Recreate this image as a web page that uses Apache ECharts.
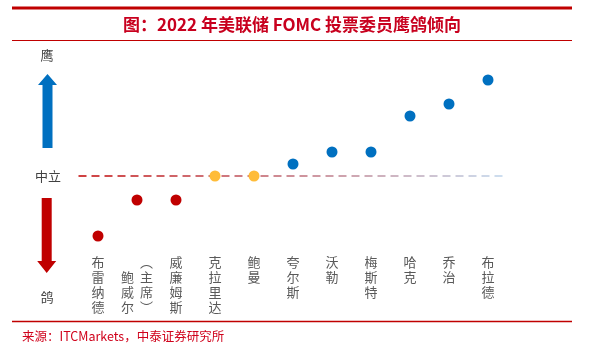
<!DOCTYPE html>
<html>
<head>
<meta charset="utf-8">
<script src="https://cdn.jsdelivr.net/npm/echarts@6/dist/echarts.min.js"></script>
<style>
    html, body { margin: 0; padding: 0; background: #fff; }
    #main { width: 602px; height: 352px; }
</style>
</head>
<body>
<div id="main"></div>
<script>
    // 委员名单与鹰鸽得分（0 为中立，正数偏鹰，负数偏鸽）
    var members = ['布雷纳德', '鲍威尔（主席）', '威廉姆斯', '克拉里达', '鲍曼', '夸尔斯', '沃勒', '梅斯特', '哈克', '乔治', '布拉德'];
    var scores = [-5, -2, -2, 0, 0, 1, 2, 2, 5, 6, 8];
    var sideLabels = ['鹰', '中立', '鸽'];
    var titleText = '图：2022 年美联储 FOMC 投票委员鹰鸽倾向';
    var sourceText = '来源：ITCMarkets，中泰证券研究所';

    var RED = '#C00000', BLUE = '#0070C0', YELLOW = '#FFBC38';
    var labelFont = {fontSize: 13, color: '#595959', fontFamily: 'Noto Sans CJK SC', lineHeight: 15};

    // 竖排标签，带括号的名字拆成两列
    function verticalName (name) {
        var p = name.indexOf('（');
        if (p < 0) {
            return name.split('').join('\n');
        }
        var left = ['\u3000'].concat(name.slice(0, p).split(''));
        var right = ['︵'].concat(name.slice(p + 1, name.length - 1).split('')).concat(['︶']);
        var rows = [];
        for (var i = 0; i < right.length; i++) {
            rows.push('{l|' + (left[i] || '\u3000') + '}{r|' + right[i] + '}');
        }
        return rows.join('\n');
    }

    var myChart = echarts.init(document.getElementById('main'));
    var option = {
        backgroundColor: '#fff',
        animation: false,
        grid: {left: 78.5, right: 94.5, top: 56, bottom: 104},
        xAxis: {
            type: 'category',
            data: members,
            axisLine: {show: false},
            axisTick: {show: false},
            splitLine: {show: false},
            axisLabel: Object.assign({
                interval: 0,
                margin: 7,
                formatter: verticalName,
                rich: {
                    l: Object.assign({width: 19, align: 'center'}, labelFont),
                    r: Object.assign({width: 19, align: 'center'}, labelFont)
                }
            }, labelFont)
        },
        yAxis: {
            type: 'value',
            min: -6,
            max: 10,
            show: false
        },
        series: [
            {
                // 中立虚线
                type: 'scatter',
                data: [],
                z: 1,
                markLine: {
                    silent: true,
                    z: 1,
                    symbol: 'none',
                    label: {show: false},
                    lineStyle: {
                        type: [8, 5],
                        width: 1.5,
                        color: new echarts.graphic.LinearGradient(0, 0, 1, 0, [
                            {offset: 0, color: RED},
                            {offset: 1, color: '#BDD7EE'}
                        ])
                    },
                    data: [{yAxis: 0}]
                }
            },
            {
                type: 'scatter',
                z: 5,
                symbolSize: 11,
                data: scores,
                itemStyle: {
                    opacity: 1,
                    color: function (p) {
                        return p.value < 0 ? RED : (p.value > 0 ? BLUE : YELLOW);
                    }
                }
            }
        ],
        graphic: [
            // 标题及上下分隔线
            {type: 'line', shape: {x1: 12, y1: 8, x2: 572, y2: 8}, style: {stroke: RED, lineWidth: 3}},
            {type: 'text', x: 292, y: 25, style: {text: titleText, fill: '#C8001E', font: 'bold 17px "Noto Sans CJK SC"', align: 'center', verticalAlign: 'middle'}},
            {type: 'line', shape: {x1: 12, y1: 40.5, x2: 572, y2: 40.5}, style: {stroke: RED, lineWidth: 1}},
            {type: 'line', shape: {x1: 12, y1: 321.5, x2: 572, y2: 321.5}, style: {stroke: RED, lineWidth: 1.5}},
            {type: 'text', x: 22, y: 336, style: {text: sourceText, fill: '#D0021B', font: '12.5px "Noto Sans CJK SC"', verticalAlign: 'middle'}},
            // 左侧鹰/中立/鸽
            {type: 'text', x: 47, y: 55, style: {text: sideLabels[0], fill: '#404040', font: '13px "Noto Sans CJK SC"', align: 'center', verticalAlign: 'middle'}},
            {type: 'text', x: 48, y: 176, style: {text: sideLabels[1], fill: '#404040', font: '13px "Noto Sans CJK SC"', align: 'center', verticalAlign: 'middle'}},
            {type: 'text', x: 47, y: 297, style: {text: sideLabels[2], fill: '#404040', font: '13px "Noto Sans CJK SC"', align: 'center', verticalAlign: 'middle'}},
            {
                type: 'polygon',
                shape: {points: [[47.5, 74], [57, 85], [52.5, 85], [52.5, 148], [42.5, 148], [42.5, 85], [38, 85]]},
                style: {fill: BLUE}
            },
            {
                type: 'polygon',
                shape: {points: [[41.7, 198], [51.7, 198], [51.7, 261], [56.2, 261], [46.7, 273], [37.2, 261], [41.7, 261]]},
                style: {fill: RED}
            }
        ]
    };
    myChart.setOption(option);
</script>
</body>
</html>
